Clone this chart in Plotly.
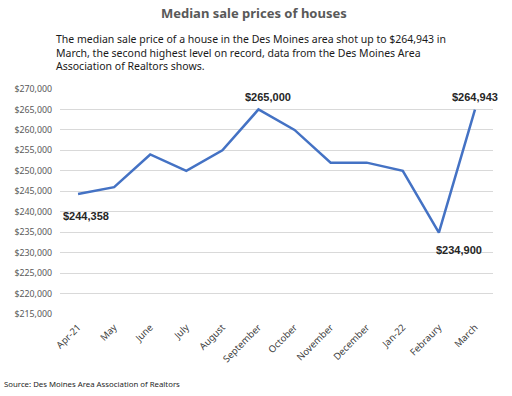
import plotly.graph_objects as go

months = ["Apr-21", "May", "June", "July", "August", "September", "October",
          "November", "December", "Jan-22", "Febraury", "March"]
prices = [244358, 246000, 254000, 250000, 255000, 265000, 260000,
          252000, 252000, 250000, 234900, 264943]
y_ticks = list(range(215000, 270001, 5000))
y_tick_text = [f"${v:,}" for v in y_ticks]

# labelled points: (index, text, xshift, yshift)
labels = [(0, "$244,358", 8, -22), (5, "$265,000", 10, 12),
          (11, "$264,943", 0, 13), (10, "$234,900", 20, -17)]

L, R, T, B = 60, 493, 89, 314


def px(xp):
    return (xp - L) / (R - L)


def py(yp):
    return (B - yp) / (B - T)


fig = go.Figure()
fig.add_trace(go.Scatter(x=months, y=prices, mode="lines",
                         line=dict(color="#4472C4", width=2.5),
                         hoverinfo="skip"))

for i, txt, dx, dy in labels:
    fig.add_annotation(x=months[i], y=prices[i], text=f"<b>{txt}</b>",
                       showarrow=False, xshift=dx, yshift=dy,
                       font=dict(family="Liberation Sans", size=11, color="#262626"))

fig.add_annotation(xref="paper", yref="paper", x=px(254), y=py(13),
                   xanchor="center", yanchor="middle", showarrow=False,
                   text="<b>Median sale prices of houses</b>",
                   font=dict(family="Noto Sans", size=13, color="#595959"))

fig.add_annotation(xref="paper", yref="paper", x=px(54), y=py(30),
                   xanchor="left", yanchor="top", align="left", showarrow=False,
                   text=("The median sale price of a house in the Des Moines area shot up to $264,943 in<br>"
                         "March, the second highest level on record, data from the Des Moines Area<br>"
                         "Association of Realtors shows."),
                   font=dict(family="Noto Sans", size=10.5, color="#1a1a1a"))

fig.add_annotation(xref="paper", yref="paper", x=px(2), y=py(384),
                   xanchor="left", yanchor="middle", showarrow=False,
                   text="Source: Des Moines Area Association of Realtors",
                   font=dict(family="Noto Sans", size=7.8, color="#262626"))

fig.update_layout(
    width=512, height=396,
    margin=dict(l=L, r=512 - R, t=T, b=396 - B),
    paper_bgcolor="white", plot_bgcolor="white",
    showlegend=False,
    xaxis=dict(type="category", range=[-0.5, 11.5], tickangle=-45,
               showgrid=False, zeroline=False, showline=False, ticks="",
               ticklabelstandoff=5,
               tickfont=dict(family="Noto Sans", size=9.5, color="#404040")),
    yaxis=dict(range=[215000, 270000], tickvals=y_ticks, ticktext=y_tick_text,
               showgrid=True, gridcolor="#d9d9d9", gridwidth=1, zeroline=False,
               showline=False, ticks="", ticklabelstandoff=7,
               tickfont=dict(family="Noto Sans", size=8.8, color="#595959")),
)

fig.write_html("out.html", config={"displayModeBar": False},
               post_script="document.body.style.margin='0';document.body.style.padding='0';")
